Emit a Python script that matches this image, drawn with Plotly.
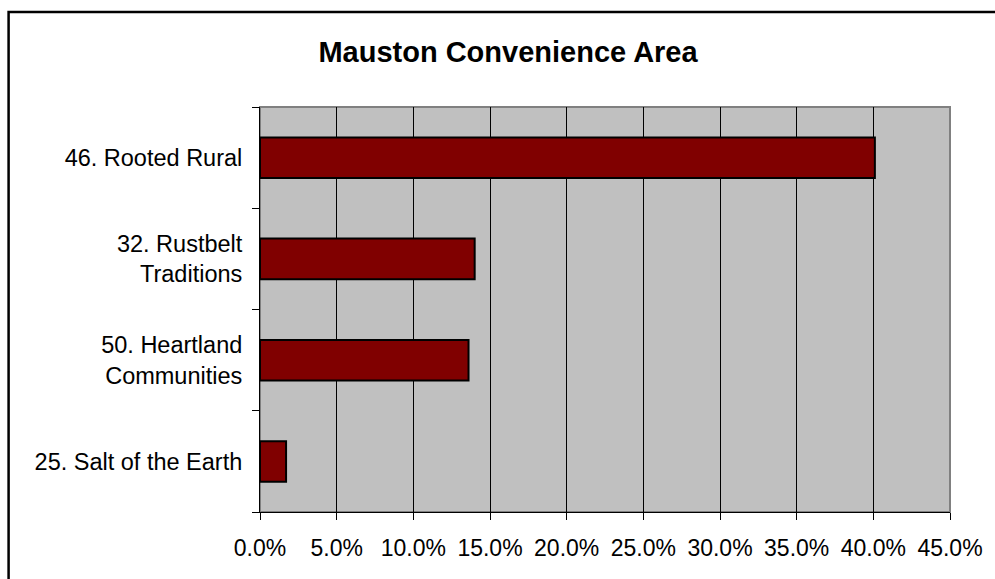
import plotly.graph_objects as go

categories = ["25. Salt of the Earth", "50. Heartland<br>Communities", "32. Rustbelt<br>Traditions", "46. Rooted Rural"]
values = [1.7, 13.6, 14.0, 40.1]
x_ticks = [0, 5, 10, 15, 20, 25, 30, 35, 40, 45]
x_tick_labels = ["0.0%", "5.0%", "10.0%", "15.0%", "20.0%", "25.0%", "30.0%", "35.0%", "40.0%", "45.0%"]
title_text = "Mauston Convenience Area"

W, H = 995, 579
L, R, T, B = 260, 42, 107, 67
pw, ph = W - L - R, H - T - B

def px(x):
    return (x - L) / pw

def py(y):
    return (H - B - y) / ph

fig = go.Figure()
fig.add_trace(go.Bar(
    x=values, y=categories, orientation="h",
    marker=dict(color="#800000", line=dict(color="#000000", width=2)),
    width=0.4,
))

font = "Arial, Liberation Sans, sans-serif"
fig.update_layout(
    width=W, height=H,
    margin=dict(l=L, r=R, t=T, b=B),
    paper_bgcolor="white", plot_bgcolor="#C0C0C0",
    showlegend=False,
    title=dict(text="<b>" + title_text + "</b>", x=(508 / W), xanchor="center",
               y=1 - 52 / H, yanchor="middle",
               font=dict(family=font, size=29, color="black")),
    font=dict(family=font, size=23, color="black"),
    xaxis=dict(range=[0, 45], tickvals=x_ticks, ticktext=x_tick_labels,
               showgrid=True, gridcolor="black", gridwidth=1,
               ticks="outside", ticklen=7, tickcolor="black",
               showline=True, linecolor="black", linewidth=1,
               zeroline=False, tickfont=dict(size=23),
               ticklabelstandoff=8, fixedrange=True),
    yaxis=dict(categoryorder="array", categoryarray=categories,
               range=[-0.5, 3.5],
               tickson="boundaries", ticks="outside", ticklen=7, tickcolor="black",
               showline=True, linecolor="black", linewidth=1,
               showgrid=False, tickfont=dict(size=23.5),
               ticklabelstandoff=12, fixedrange=True),
    shapes=[
        dict(type="rect", xref="paper", yref="paper", x0=0, x1=1, y0=0, y1=1,
             line=dict(color="#808080", width=2), fillcolor="rgba(0,0,0,0)", layer="below"),
        dict(type="rect", xref="paper", yref="paper",
             x0=px(7.5), x1=px(1010), y0=py(12), y1=py(600),
             line=dict(color="black", width=2.5), fillcolor="rgba(0,0,0,0)"),
    ],
)

fig.write_html("out.html")
